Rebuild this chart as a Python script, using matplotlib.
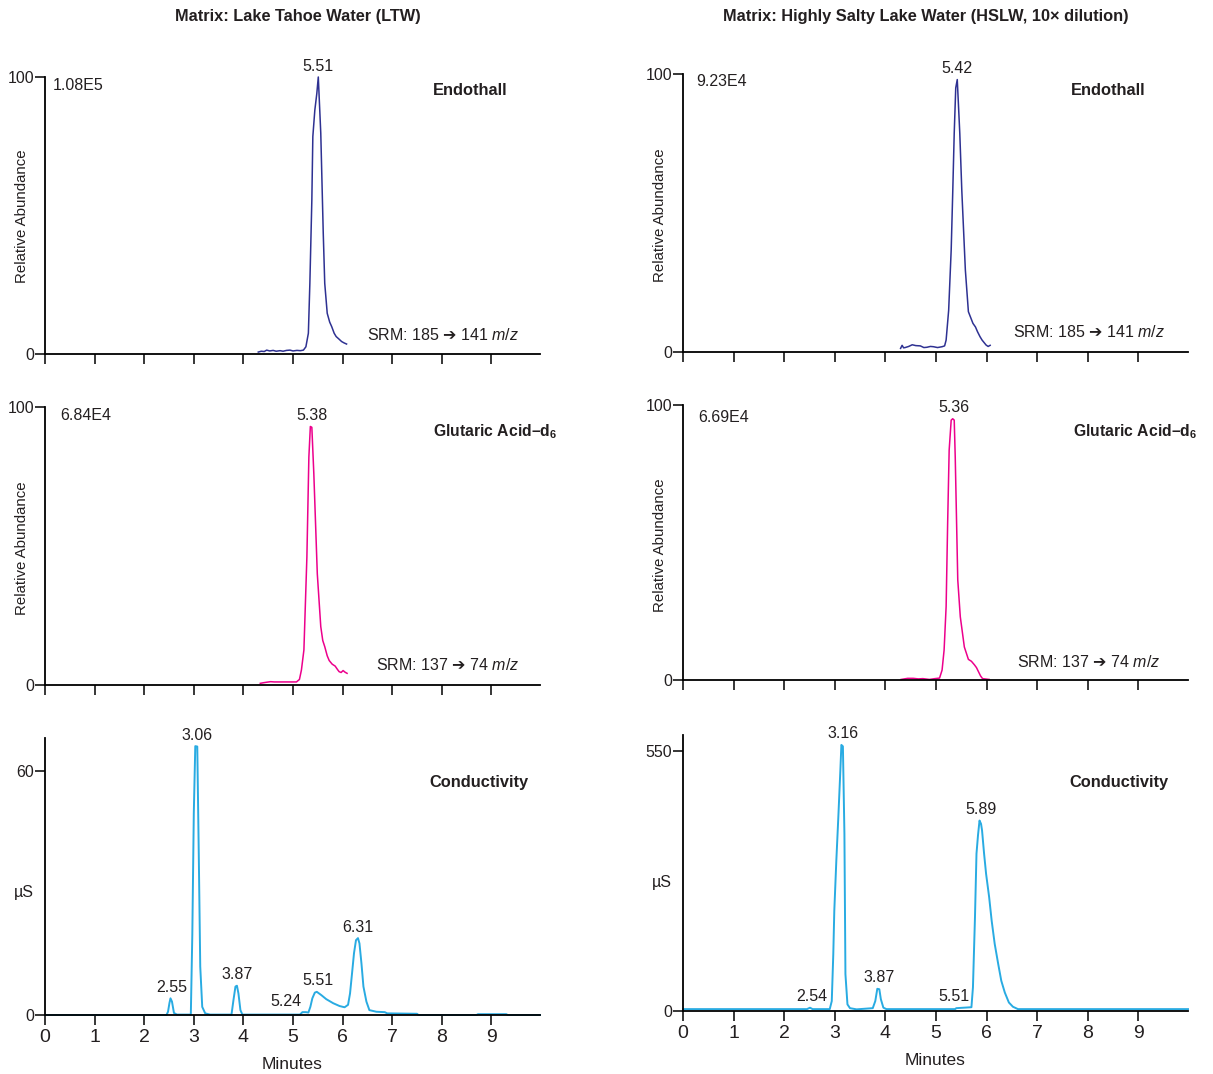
import numpy as np
import matplotlib
matplotlib.use("Agg")
import matplotlib.pyplot as plt

# Schrift: Arial-artige Grotesk (keine schmale Variante installiert)
FONT = ["Liberation Sans", "DejaVu Sans"]
plt.rcParams["font.family"] = FONT
plt.rcParams["mathtext.fontset"] = "custom"
plt.rcParams["mathtext.rm"] = "Liberation Sans"
plt.rcParams["mathtext.it"] = "Liberation Sans:italic"
plt.rcParams["mathtext.bf"] = "Liberation Sans:bold"
plt.rcParams["mathtext.sf"] = "DejaVu Sans"  # nur fuer den Pfeil

NAVY = "#2e3192"
PINK = "#ec008c"
CYAN = "#29abe2"
TXT = "#231f20"

# --- Daten ---
# LTW, Endothall
ltw_endo_t = [4.30, 4.36, 4.42, 4.47, 4.53, 4.60, 4.66, 4.74, 4.80, 4.87, 4.94, 5.00,
              5.08, 5.15, 5.21, 5.26, 5.31, 5.34, 5.38, 5.40, 5.44, 5.48, 5.51, 5.56,
              5.61, 5.64, 5.69, 5.74, 5.78, 5.83, 5.87, 5.92, 5.98, 6.03, 6.08]
ltw_endo_v = [0.7, 1.0, 0.9, 1.4, 1.1, 1.3, 1.0, 1.2, 1.0, 1.3, 1.4, 1.1,
              1.3, 1.2, 1.4, 2.6, 7.5, 25.5, 55.6, 78.5, 88.0, 94.0, 100.0, 79.7,
              43.6, 25.5, 14.7, 11.5, 9.9, 7.5, 6.3, 5.5, 4.5, 4.0, 3.6]

# LTW, Glutarsaeure-d6
ltw_glut_t = [4.34, 4.40, 4.47, 4.55, 4.62, 4.75, 4.90, 5.07, 5.13, 5.17, 5.22, 5.28,
              5.32, 5.35, 5.38, 5.42, 5.49, 5.56, 5.60, 5.64, 5.69, 5.73, 5.79, 5.85,
              5.90, 5.93, 5.97, 6.01, 6.05, 6.09]
ltw_glut_v = [0.6, 0.8, 1.0, 1.2, 1.1, 1.1, 1.1, 1.1, 2.0, 5.4, 12.6, 46.0,
              82.0, 93.0, 92.7, 76.0, 40.0, 21.0, 16.0, 13.8, 10.5, 8.8, 7.5, 6.8,
              5.5, 4.8, 4.5, 5.2, 4.6, 4.2]

# HSLW, Endothall
hslw_endo_t = [4.30, 4.33, 4.36, 4.39, 4.46, 4.53, 4.60, 4.69, 4.76, 4.82, 4.89, 4.95,
               5.03, 5.12, 5.17, 5.20, 5.25, 5.30, 5.33, 5.36, 5.39, 5.42, 5.47, 5.51,
               5.58, 5.64, 5.73, 5.78, 5.82, 5.87, 5.91, 5.99, 6.03, 6.07]
hslw_endo_v = [1.3, 2.4, 1.5, 1.6, 2.0, 2.6, 2.3, 2.2, 1.6, 1.7, 2.0, 1.9,
               1.6, 1.9, 2.2, 4.3, 15.0, 36.7, 57.0, 78.7, 95.0, 98.0, 78.7, 58.0,
               29.5, 14.5, 10.3, 9.0, 7.3, 5.5, 4.3, 2.5, 2.0, 2.4]

# HSLW, Glutarsaeure-d6
hslw_glut_t = [4.31, 4.44, 4.55, 4.65, 4.74, 4.87, 4.98, 5.07, 5.12, 5.16, 5.20, 5.23,
               5.26, 5.30, 5.33, 5.36, 5.38, 5.43, 5.48, 5.56, 5.64, 5.70, 5.76, 5.80,
               5.84, 5.88, 5.92, 6.05]
hslw_glut_v = [0.2, 0.6, 0.6, 0.4, 0.5, 0.2, 0.5, 0.7, 3.6, 10.9, 26.7, 57.0,
               83.6, 94.5, 95.0, 94.5, 81.0, 36.4, 23.0, 12.0, 7.5, 6.8, 5.5, 4.5,
               3.0, 1.5, 0.5, 0.2]

# LTW, Leitfaehigkeit (uS)
ltw_cond_t = [0.0, 2.45, 2.48, 2.51, 2.53, 2.56, 2.60, 2.66, 2.94, 2.97, 3.00, 3.03,
              3.07, 3.10, 3.13, 3.17, 3.23, 3.33, 3.76, 3.80, 3.84, 3.87, 3.90, 3.94,
              3.98, 5.14, 5.19, 5.26, 5.31, 5.35, 5.39, 5.44, 5.48, 5.57, 5.67, 5.81,
              5.94, 6.04, 6.11, 6.15, 6.19, 6.23, 6.27, 6.31, 6.34, 6.38, 6.42, 6.48,
              6.54, 6.68, 6.85, 6.90, 7.50, 7.53, 8.70, 8.73, 9.30, 9.33, 9.98]
ltw_cond_v = [0.0, 0.0, 0.8, 3.0, 4.1, 3.3, 0.5, 0.1, 0.1, 19.7, 49.6, 66.1,
              66.0, 39.8, 11.9, 2.0, 0.4, 0.1, 0.1, 3.7, 7.0, 7.2, 5.3, 1.2,
              0.1, 0.1, 0.7, 0.7, 0.6, 2.0, 4.1, 5.5, 5.7, 4.9, 3.9, 2.9,
              2.2, 1.9, 2.5, 5.3, 10.2, 15.2, 18.4, 18.9, 17.6, 12.7, 7.0, 3.3,
              1.2, 0.8, 0.7, 0.4, 0.3, 0.0, 0.0, 0.2, 0.2, 0.0, 0.0]

# HSLW, Leitfaehigkeit (uS)
hslw_cond_t = [0.0, 2.45, 2.51, 2.56, 2.62, 2.90, 2.94, 2.97, 2.99, 3.03, 3.07, 3.11,
               3.13, 3.16, 3.19, 3.21, 3.25, 3.30, 3.43, 3.75, 3.80, 3.84, 3.88, 3.91,
               3.96, 4.02, 5.38, 5.40, 5.70, 5.73, 5.77, 5.80, 5.83, 5.86, 5.89, 5.91,
               5.95, 5.99, 6.05, 6.10, 6.16, 6.23, 6.29, 6.36, 6.44, 6.52, 6.62, 9.98]
hslw_cond_v = [4, 4, 7, 4, 4, 4, 21, 120, 212, 318, 411, 510,
               563, 560, 375, 78, 14, 6, 3.5, 6, 21, 47, 46, 25,
               7, 4, 4, 6, 8, 50, 198, 333, 372, 403, 396, 382,
               333, 290, 241, 191, 142, 99, 64, 39, 18, 9, 4, 4]

# Beschriftungen
ltw_endo_peaks = ["5.51"]
ltw_glut_peaks = ["5.38"]
hslw_endo_peaks = ["5.42"]
hslw_glut_peaks = ["5.36"]
ltw_cond_peaks = ["2.55", "3.06", "3.87", "5.24", "5.51", "6.31"]
hslw_cond_peaks = ["2.54", "3.16", "3.87", "5.51", "5.89"]

ltw_title = "Matrix: Lake Tahoe Water (LTW)"
hslw_title = "Matrix: Highly Salty Lake Water (HSLW, 10\u00d7 dilution)"
ltw_base_peaks = ["1.08E5", "6.84E4"]
hslw_base_peaks = ["9.23E4", "6.69E4"]
# fetter Pfeil aus DejaVu Sans (ueber mathtext.sf)
ARROW = "$\\mathsf{\u2794}$"
srm_endo = "SRM: 185 " + ARROW + " 141 $m/z$"
srm_glut = "SRM: 137 " + ARROW + " 74 $m/z$"
glut_name = "Glutaric Acid\u2013$\\mathbf{d_6}$"

W, H = 1213, 1074
fig = plt.figure(figsize=(W / 100, H / 100), dpi=100)


def px_text(x, y, s, **kw):
    fig.text(x / W, 1 - y / H, s, color=TXT, **kw)


def make_axes(left, right, y0, ytop):
    # Achse aus Pixelgrenzen
    return fig.add_axes([left / W, 1 - y0 / H, (right - left) / W, (y0 - ytop) / H])


def style(ax, ymax, yticks, xlabels):
    ax.set_xlim(0, 9.98)
    ax.set_ylim(0, ymax)
    for s in ("top", "right"):
        ax.spines[s].set_visible(False)
    for s in ("left", "bottom"):
        ax.spines[s].set_linewidth(1.3)
    ax.set_xticks(range(10))
    ax.set_yticks(yticks)
    ax.tick_params(direction="out", length=7, width=1.1, colors="black",
                   labelcolor=TXT)
    ax.tick_params(axis="y", labelsize=11.5, pad=1)
    ax.tick_params(axis="x", labelsize=14, pad=3)
    if not xlabels:
        ax.set_xticklabels([])


def label_peaks(ax, t, v, peaks, shift=None, off=2.5):
    t = np.asarray(t)
    v = np.asarray(v)
    shift = shift or {}
    for p in peaks:
        pt = float(p)
        win = np.abs(t - pt) <= 0.06
        y = v[win].max() if win.any() else np.interp(pt, t, v)
        ax.annotate(p, (pt + shift.get(p, 0), y), xytext=(0, off),
                    textcoords="offset points", ha="center", va="bottom",
                    fontsize=11.5, color=TXT)


cols = [
    dict(left=45, right=540, rows=[(354, 77), (685, 407), (1015, 738)],
         endo=(ltw_endo_t, ltw_endo_v, ltw_endo_peaks),
         glut=(ltw_glut_t, ltw_glut_v, ltw_glut_peaks),
         cond=(ltw_cond_t, ltw_cond_v, ltw_cond_peaks),
         cond_max=68.1, cond_ticks=[0, 60], shift={"5.24": -0.38}),
    dict(left=683, right=1188, rows=[(352, 74), (680, 405), (1011, 735)],
         endo=(hslw_endo_t, hslw_endo_v, hslw_endo_peaks),
         glut=(hslw_glut_t, hslw_glut_v, hslw_glut_peaks),
         cond=(hslw_cond_t, hslw_cond_v, hslw_cond_peaks),
         cond_max=584, cond_ticks=[0, 550], shift={"5.51": -0.15}),
]

for c in cols:
    (y1, t1), (y2, t2), (y3, t3) = c["rows"]
    ax1 = make_axes(c["left"], c["right"], y1, t1)
    ax2 = make_axes(c["left"], c["right"], y2, t2)
    ax3 = make_axes(c["left"], c["right"], y3, t3)

    style(ax1, 100, [0, 100], False)
    style(ax2, 100, [0, 100], False)
    style(ax3, c["cond_max"], c["cond_ticks"], True)

    ax1.plot(c["endo"][0], c["endo"][1], color=NAVY, lw=1.1, clip_on=False)
    ax2.plot(c["glut"][0], c["glut"][1], color=PINK, lw=1.1, clip_on=False)
    ax3.plot(c["cond"][0], c["cond"][1], color=CYAN, lw=1.4, clip_on=False)

    label_peaks(ax1, *c["endo"])
    label_peaks(ax2, *c["glut"])
    label_peaks(ax3, *c["cond"], shift=c["shift"])

    ax3.set_xlabel("Minutes", fontsize=12.5, labelpad=8, color=TXT)

# Titel und Zusatztexte
px_text(298, 17, ltw_title, ha="center", va="center", fontsize=11.8, fontweight="bold")
px_text(926, 17, hslw_title, ha="center", va="center", fontsize=11.8, fontweight="bold")

for x, y in [(22, 216), (22, 548), (660, 215), (660, 545)]:
    px_text(x, y, "Relative Abundance", ha="center", va="center", fontsize=10.8,
            rotation=90)

px_text(53, 86, ltw_base_peaks[0], ha="left", va="center", fontsize=11.5)
px_text(60, 416, ltw_base_peaks[1], ha="left", va="center", fontsize=11.5)
px_text(696, 81, hslw_base_peaks[0], ha="left", va="center", fontsize=11.5)
px_text(698, 417, hslw_base_peaks[1], ha="left", va="center", fontsize=11.5)

px_text(507, 91, "Endothall", ha="right", va="center", fontsize=11.8, fontweight="bold")
px_text(1146, 91, "Endothall", ha="right", va="center", fontsize=11.8, fontweight="bold")
px_text(557, 432, glut_name, ha="right", va="center", fontsize=11.3, fontweight="bold")
px_text(1197, 432, glut_name, ha="right", va="center", fontsize=11.3, fontweight="bold")
px_text(529, 783, "Conductivity", ha="right", va="center", fontsize=11.8, fontweight="bold")
px_text(1168, 783, "Conductivity", ha="right", va="center", fontsize=11.8, fontweight="bold")

px_text(519, 335, srm_endo, ha="right", va="center", fontsize=11.5)
px_text(1165, 332, srm_endo, ha="right", va="center", fontsize=11.5)
px_text(519, 665, srm_glut, ha="right", va="center", fontsize=11.5)
px_text(1160, 662, srm_glut, ha="right", va="center", fontsize=11.5)

px_text(24, 893, "\u00b5S", ha="center", va="center", fontsize=11.5)
px_text(662, 882, "\u00b5S", ha="center", va="center", fontsize=11.5)

fig.savefig("out.png", dpi=100)
